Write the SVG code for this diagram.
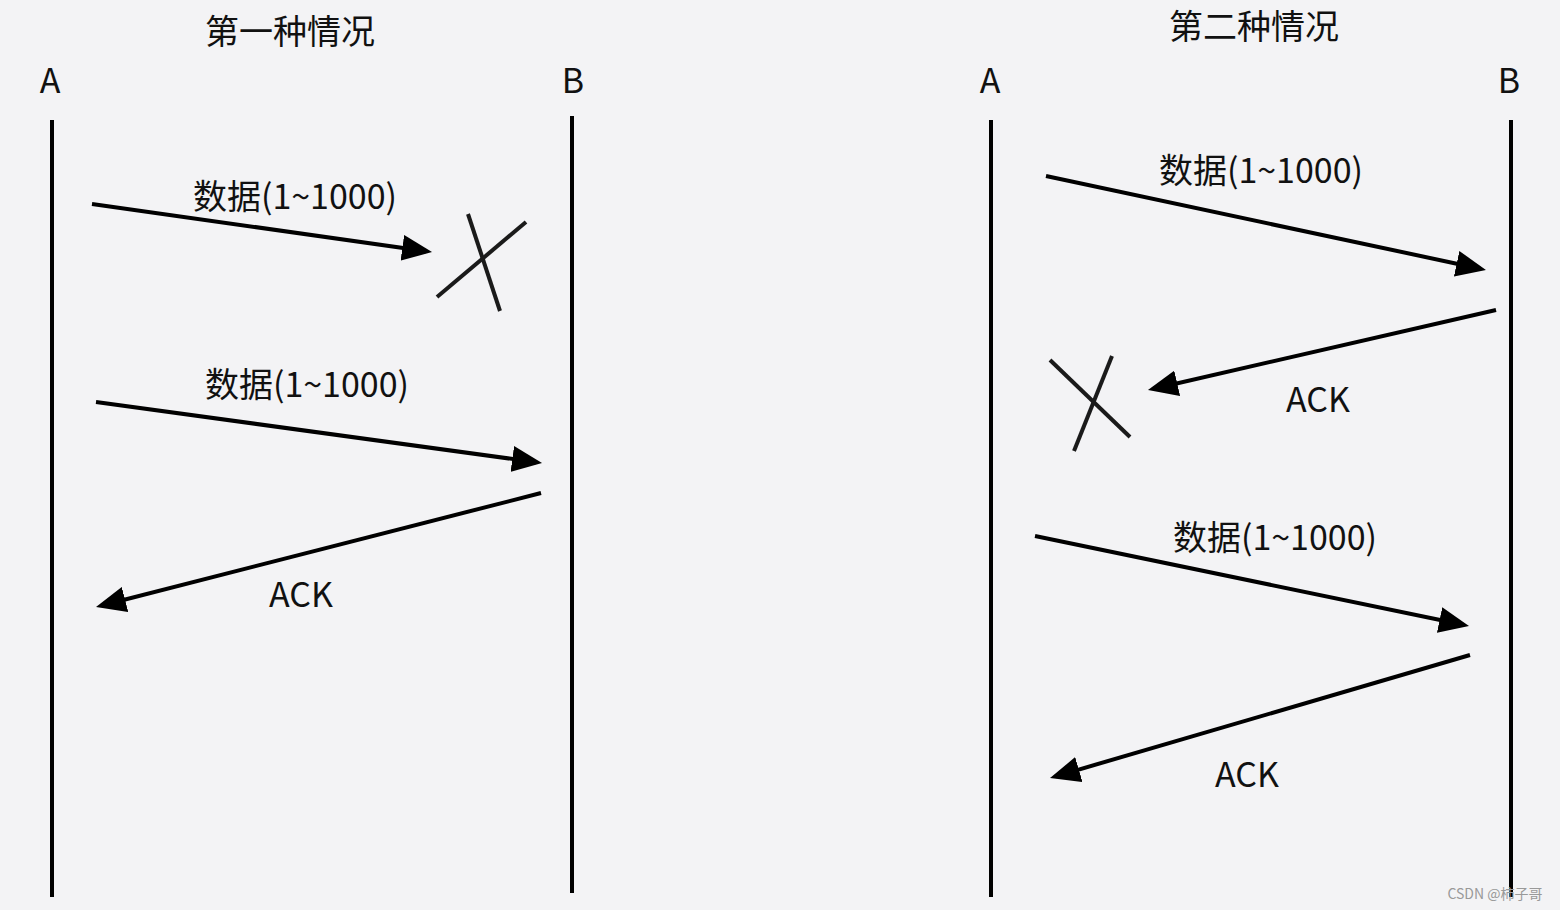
<svg xmlns="http://www.w3.org/2000/svg" width="1560" height="910" viewBox="0 0 1560 910">
<style>
.t{font-family:"Noto Sans CJK SC","Noto Sans",sans-serif;fill:#111;font-size:34px;text-anchor:middle}
.life{stroke:#000;stroke-width:4;fill:none}
.msg{stroke:#000;stroke-width:4;fill:none;marker-end:url(#ah)}
.x{stroke:#1a1a1a;stroke-width:4;fill:none}
</style>
<defs>
<marker id="ah" markerUnits="userSpaceOnUse" markerWidth="30" markerHeight="26" refX="24" refY="13" orient="auto" viewBox="0 0 30 26">
<path d="M0,0 L30,13 L0,26 Z" fill="#000"/>
</marker>
</defs>
<rect width="1560" height="910" fill="#f3f3f5"/>
<g id="titles">
<text class="t" x="290" y="44">第一种情况</text>
<text class="t" x="1254" y="39">第二种情况</text>
</g>
<g id="left-A"><text class="t" x="50" y="93">A</text><line class="life" x1="52" y1="120" x2="52" y2="897"/></g>
<g id="left-B"><text class="t" x="573" y="93">B</text><line class="life" x1="572" y1="116" x2="572" y2="893"/></g>
<g id="right-A"><text class="t" x="990" y="93">A</text><line class="life" x1="991" y1="120" x2="991" y2="897"/></g>
<g id="right-B"><text class="t" x="1509" y="93">B</text><line class="life" x1="1511" y1="120" x2="1511" y2="897"/></g>
<g id="connectors">
<line class="msg" x1="92" y1="204" x2="426.1" y2="251.2"/>
<line class="msg" x1="96" y1="402" x2="536.1" y2="462.2"/>
<line class="msg" x1="541" y1="493" x2="101.8" y2="605.5"/>
<line class="msg" x1="1046" y1="176" x2="1480.1" y2="268.7"/>
<line class="msg" x1="1496" y1="310" x2="1153.8" y2="388.7"/>
<line class="msg" x1="1035" y1="536" x2="1463.1" y2="624.8"/>
<line class="msg" x1="1470" y1="655" x2="1055.8" y2="776.3"/>
</g>
<g id="labels">
<text class="t" x="295" y="209">数据(1~1000)</text>
<text class="t" x="307" y="397">数据(1~1000)</text>
<text class="t" x="301" y="607">ACK</text>
<text class="t" x="1261" y="183">数据(1~1000)</text>
<text class="t" x="1318" y="412">ACK</text>
<text class="t" x="1275" y="550">数据(1~1000)</text>
<text class="t" x="1247" y="787">ACK</text>
</g>
<g id="loss-1">
<line class="x" x1="437" y1="297" x2="526" y2="222"/>
<line class="x" x1="468" y1="214" x2="500" y2="311"/>
</g>
<g id="loss-2">
<line class="x" x1="1050" y1="360" x2="1130" y2="437"/>
<line class="x" x1="1112" y1="356" x2="1074" y2="451"/>
</g>
<text x="1495" y="899" style="font-family:'Noto Sans CJK SC','Liberation Sans',sans-serif;font-size:14px;fill:#999;text-anchor:middle">CSDN @柿子哥</text>
</svg>
